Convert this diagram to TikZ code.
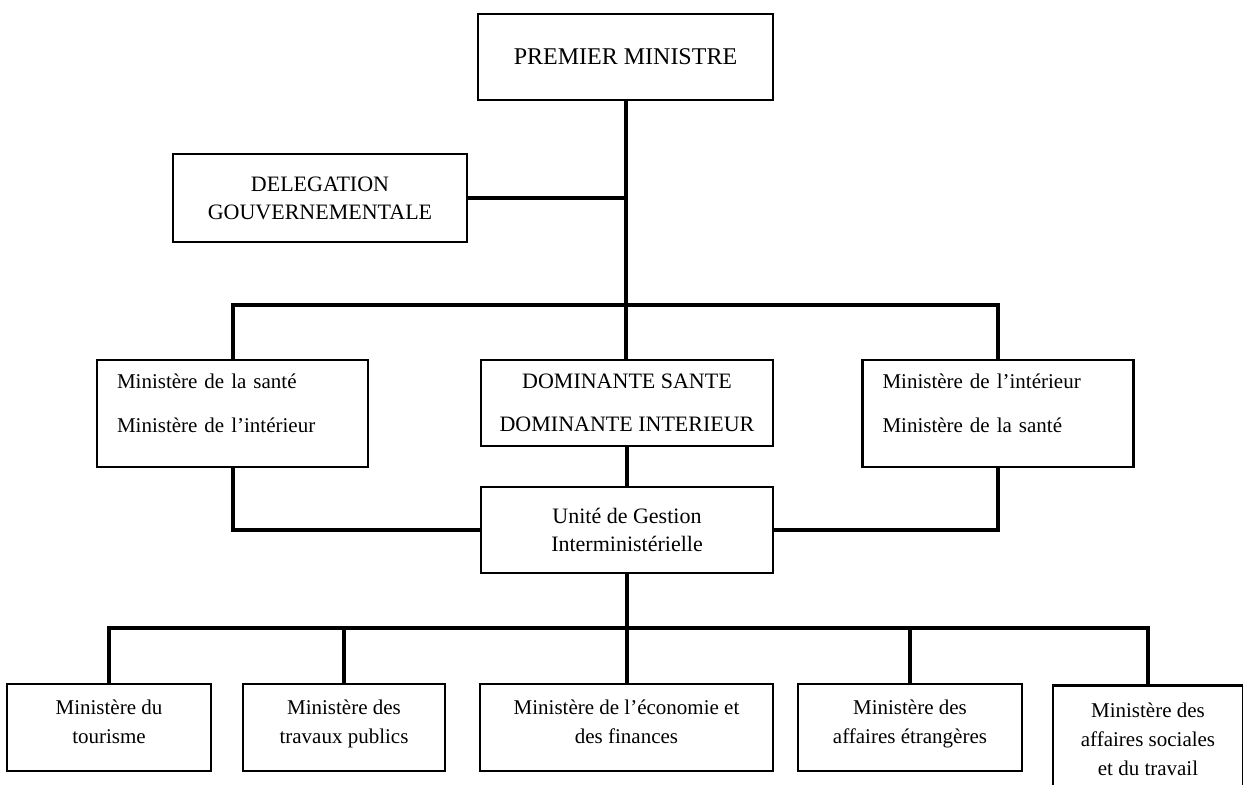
\documentclass[tikz,border=0pt]{standalone}
\usepackage{fontspec}
\setmainfont{Liberation Serif}
\usetikzlibrary{positioning}
\tikzset{box/.style={draw, rectangle, line width=1.4pt, inner sep=0pt, align=center, font=\fontsize{11}{14}\selectfont}}
\tikzstyle{sidebox}=[box, minimum width=135.5pt, minimum height=53.5pt, text width=115.5pt, align=left, font=\fontsize{10.5}{22}\selectfont]
\tikzstyle{lowbox}=[box, minimum height=43.5pt, font=\fontsize{10.5}{14.5}\selectfont]
\tikzstyle{link}=[line width=2pt]

\begin{document}
\begin{tikzpicture}[x=0.5pt, y=-0.5pt]
\clip (0,0) rectangle (1243,784);
\node[box, minimum width=147.5pt, minimum height=43pt, font=\fontsize{12}{14}\selectfont] (pm) at (625.5,57) {PREMIER MINISTRE};
\node[box, minimum width=147pt, minimum height=44pt] (deleg) at (320,198) {DELEGATION\\GOUVERNEMENTALE};
\node[sidebox] (santeL) at (232.5,413.5) {Ministère de la santé\\Ministère de l’intérieur\rule[-10pt]{0pt}{0pt}};
\node[box, minimum width=146pt, minimum height=43pt, font=\fontsize{11}{21.5}\selectfont] (domin) at (627,403) {DOMINANTE SANTE\\DOMINANTE INTERIEUR};
\node[sidebox] (santeR) at (998,413.5) {Ministère de l’intérieur\\Ministère de la santé\rule[-10pt]{0pt}{0pt}};
\node[box, minimum width=146pt, minimum height=43pt] (ugi) at (627,530) {Unité de Gestion\\Interministérielle};
\node[lowbox, minimum width=102pt] (tour) at (109,727.5) {Ministère du\\tourisme\rule[-6pt]{0pt}{0pt}};
\node[lowbox, minimum width=101pt] (trav) at (344,727.5) {Ministère des\\travaux publics\rule[-6pt]{0pt}{0pt}};
\node[lowbox, minimum width=146.5pt] (eco) at (626.5,727.5) {Ministère de l’économie et\\des finances\rule[-6pt]{0pt}{0pt}};
\node[lowbox, minimum width=112pt] (etr) at (910,727.5) {Ministère des\\affaires étrangères\rule[-6pt]{0pt}{0pt}};
\node[lowbox, anchor=north, minimum width=95pt, minimum height=54pt] (soc) at (1148,684) {Ministère des\\affaires sociales\\et du travail};
\coordinate (bus1) at (625,305);
\coordinate (bus2) at (627,628);

\draw[link] (pm.south) -- (pm.south |- domin.north);
\draw[link] (deleg.east) -- (deleg.east -| pm.south);
\draw[link] (santeL.north) |- (bus1) -| (santeR.north);
\draw[link] (domin.south) -- (ugi.north);
\draw[link] (santeL.south) |- (ugi.west);
\draw[link] (santeR.south) |- (ugi.east);
\draw[link] (ugi.south) -- (bus2);
\draw[link] (tour.north) |- (bus2) -| (soc.north);
\foreach \m in {trav,eco,etr}
  \draw[link] (\m.north) -- (\m.north |- bus2);
\end{tikzpicture}
\end{document}
